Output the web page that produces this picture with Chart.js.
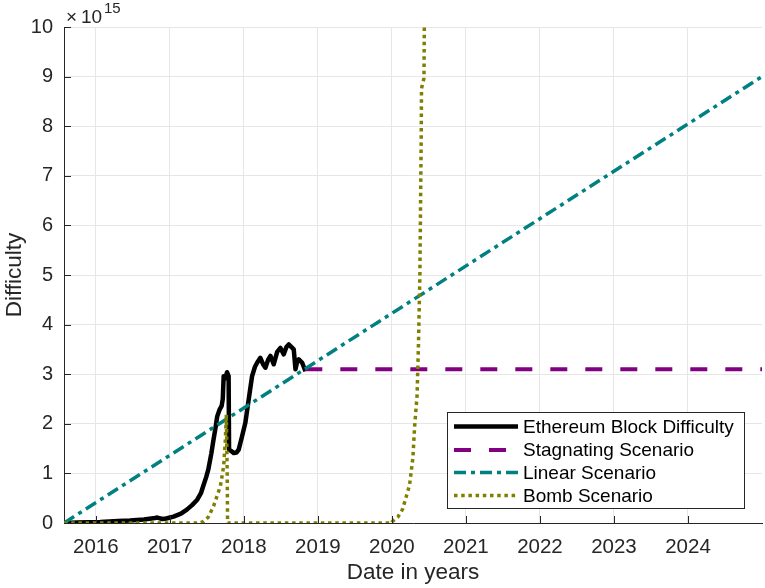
<!DOCTYPE html>
<html>
<head>
<meta charset="utf-8">
<script src="https://cdn.jsdelivr.net/npm/chart.js@4.4.0/dist/chart.umd.min.js"></script>
<style>
html,body{margin:0;padding:0;background:#fff;}
#wrap{width:765px;height:588px;position:relative;}
</style>
</head>
<body>
<div id="wrap"><canvas id="c" width="765" height="588"></canvas></div>
<script>
// ---- data ----
const xTickYears = [2016, 2017, 2018, 2019, 2020, 2021, 2022, 2023, 2024];
const yTickValues = [0, 1, 2, 3, 4, 5, 6, 7, 8, 9, 10];
const seriesNames = ["Ethereum Block Difficulty", "Stagnating Scenario", "Linear Scenario", "Bomb Scenario"];

const ethYears = [2015.57, 2015.75, 2016.06, 2016.30, 2016.46, 2016.65, 2016.80, 2016.83, 2016.90, 2016.95, 2017.05, 2017.15, 2017.23, 2017.30, 2017.37, 2017.42, 2017.45, 2017.49, 2017.52, 2017.56, 2017.59, 2017.62, 2017.64, 2017.67, 2017.70, 2017.715, 2017.727, 2017.75, 2017.773, 2017.794, 2017.80, 2017.83, 2017.862, 2017.90, 2017.93, 2017.976, 2018.02, 2018.065, 2018.111, 2018.15, 2018.179, 2018.223, 2018.26, 2018.291, 2018.33, 2018.359, 2018.403, 2018.45, 2018.494, 2018.539, 2018.575, 2018.606, 2018.64, 2018.674, 2018.697, 2018.72, 2018.742, 2018.788, 2018.832];
const ethValues = [0.0, 0.01, 0.02, 0.04, 0.05, 0.07, 0.10, 0.11, 0.08, 0.09, 0.13, 0.19, 0.27, 0.36, 0.47, 0.60, 0.74, 0.92, 1.08, 1.40, 1.68, 1.95, 2.15, 2.28, 2.36, 2.50, 2.96, 2.92, 3.04, 2.96, 1.48, 1.45, 1.41, 1.42, 1.48, 1.75, 2.02, 2.49, 2.96, 3.15, 3.23, 3.33, 3.20, 3.13, 3.30, 3.37, 3.20, 3.45, 3.53, 3.40, 3.55, 3.60, 3.55, 3.50, 3.10, 3.25, 3.30, 3.23, 3.06];

const stagYears = [2018.83, 2025.0];
const stagValues = [3.1, 3.1];

const linYears = [2015.57, 2025.0];
const linValues = [0, 9.0];

const bombYears = [2015.57, 2017.40, 2017.456, 2017.52, 2017.591, 2017.682, 2017.727, 2017.75, 2017.763, 2017.775, 2017.78, 2020.0, 2020.005, 2020.08, 2020.145, 2020.238, 2020.284, 2020.307, 2020.34, 2020.359, 2020.378, 2020.387, 2020.396, 2020.40, 2020.433, 2020.438];
const bombValues = [0, 0, 0.03, 0.12, 0.34, 0.74, 1.14, 1.68, 2.19, 1.0, 0, 0, 0.03, 0.12, 0.28, 0.76, 1.32, 1.95, 2.57, 3.61, 5.0, 6.4, 7.79, 8.76, 8.97, 10.0];

const toXY = (xs, ys) => xs.map((x, i) => ({x: x, y: ys[i]}));

const FONT = '"Liberation Sans", Arial, Helvetica, sans-serif';

const styles = [
  {color: '#000000', width: 4.5, dash: []},
  {color: '#800080', width: 4, dash: [17, 18]},
  {color: '#008080', width: 3.5, dash: [12, 5, 4, 5]},
  {color: '#808000', width: 3.5, dash: [3.5, 3.7]}
];

const datasets = [
  {label: seriesNames[0], data: toXY(ethYears, ethValues), order: 4},
  {label: seriesNames[1], data: toXY(stagYears, stagValues), order: 3},
  {label: seriesNames[2], data: toXY(linYears, linValues), order: 2},
  {label: seriesNames[3], data: toXY(bombYears, bombValues), order: 1}
].map((d, i) => Object.assign(d, {
  borderColor: styles[i].color,
  borderWidth: styles[i].width,
  borderDash: styles[i].dash,
  borderCapStyle: 'butt',
  borderJoinStyle: 'round',
  pointRadius: 0,
  tension: 0,
  fill: false
}));

const decorPlugin = {
  id: 'decor',
  afterDatasetsDraw(chart) {
    const ctx = chart.ctx;
    const xs = chart.scales.x, ys = chart.scales.y;
    const ca = chart.chartArea;
    ctx.save();
    // inward ticks
    ctx.strokeStyle = '#262626';
    ctx.lineWidth = 1;
    ctx.beginPath();
    yTickValues.forEach(v => {
      const py = Math.round(ys.getPixelForValue(v)) + 0.5;
      ctx.moveTo(ca.left, py); ctx.lineTo(ca.left + 7, py);
    });
    xTickYears.forEach(v => {
      const px = Math.round(xs.getPixelForValue(v)) + 0.5;
      ctx.moveTo(px, ca.bottom); ctx.lineTo(px, ca.bottom - 7);
    });
    ctx.stroke();

    // exponent label
    ctx.fillStyle = '#262626';
    ctx.textBaseline = 'alphabetic';
    ctx.textAlign = 'left';
    ctx.font = '19px ' + FONT;
    ctx.fillText('\u00d7', 66, 23);
    ctx.fillText('10', 81, 23);
    ctx.font = '15px ' + FONT;
    ctx.fillText('15', 104, 13);

    // legend
    const bx = 447, by = 412, bw = 297, bh = 96;
    ctx.fillStyle = '#ffffff';
    ctx.fillRect(bx, by, bw, bh);
    ctx.strokeStyle = '#262626';
    ctx.lineWidth = 1;
    ctx.strokeRect(bx + 0.5, by + 0.5, bw, bh);
    const rowY = [426.5, 450, 472.5, 495.5];
    ctx.font = '19px ' + FONT;
    ctx.textBaseline = 'middle';
    chart.data.datasets.forEach((d, i) => {
      ctx.beginPath();
      ctx.strokeStyle = d.borderColor;
      ctx.lineWidth = d.borderWidth;
      ctx.setLineDash(d.borderDash);
      ctx.lineCap = 'butt';
      ctx.moveTo(454, rowY[i]);
      ctx.lineTo(518, rowY[i]);
      ctx.stroke();
      ctx.setLineDash([]);
      ctx.fillStyle = '#000000';
      ctx.fillText(d.label, 523, rowY[i] + 1);
    });
    ctx.restore();
  }
};

new Chart(document.getElementById('c'), {
  type: 'line',
  data: {datasets: datasets},
  options: {
    responsive: false,
    animation: false,
    devicePixelRatio: 1,
    layout: {padding: {top: 27, right: 3, left: 0, bottom: 0}},
    plugins: {legend: {display: false}, tooltip: {enabled: false}},
    scales: {
      x: {
        type: 'linear',
        min: 2015.57,
        max: 2025.0,
        afterBuildTicks: s => { s.ticks = xTickYears.map(v => ({value: v})); },
        afterFit: s => { s.height = 65; },
        grid: {color: '#e6e6e6', lineWidth: 1, drawTicks: false},
        border: {display: true, color: '#262626', width: 1},
        ticks: {
          padding: 12,
          color: '#262626',
          font: {family: FONT, size: 20.5},
          maxRotation: 0,
          autoSkip: false,
          callback: v => String(v)
        },
        title: {display: true, text: 'Date in years', color: '#262626', font: {family: FONT, size: 22.5, lineHeight: 1.0}}
      },
      y: {
        type: 'linear',
        min: 0,
        max: 10,
        afterBuildTicks: s => { s.ticks = yTickValues.map(v => ({value: v})); },
        afterFit: s => { s.width = 64; },
        grid: {color: '#e6e6e6', lineWidth: 1, drawTicks: false},
        border: {display: true, color: '#262626', width: 1},
        ticks: {
          padding: 11,
          color: '#262626',
          font: {family: FONT, size: 20},
          autoSkip: false,
          callback: v => String(v)
        },
        title: {display: true, text: 'Difficulty', color: '#262626', font: {family: FONT, size: 22.5, lineHeight: 1.0}}
      }
    }
  },
  plugins: [decorPlugin]
});
</script>
</body>
</html>
